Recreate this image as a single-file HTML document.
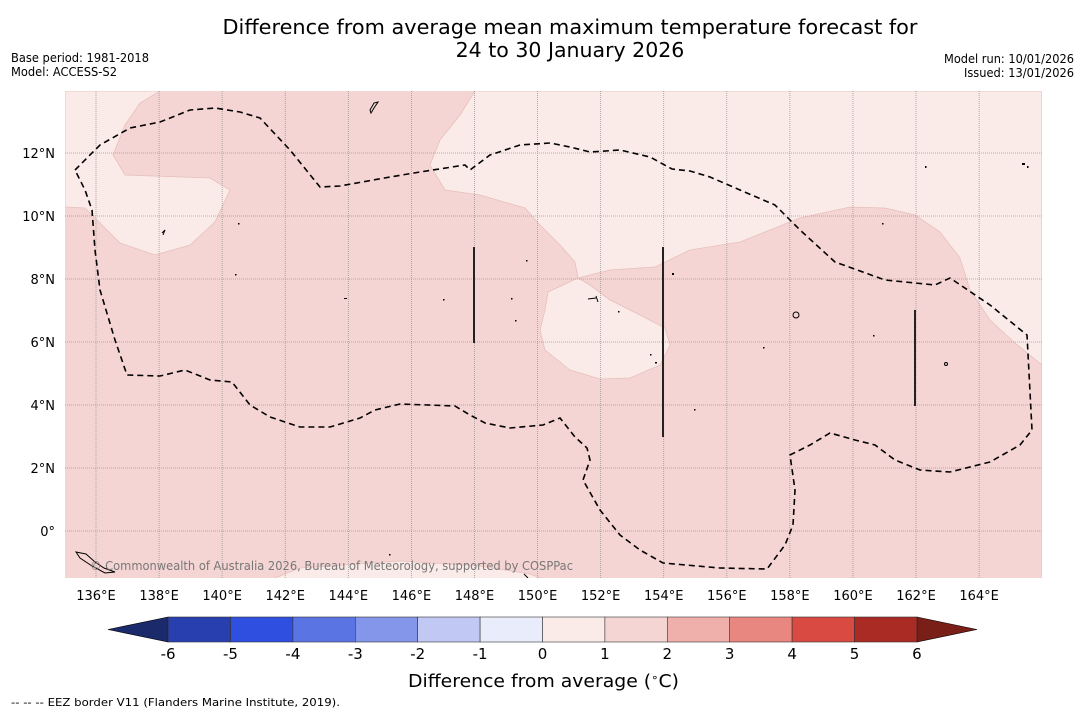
<!DOCTYPE html>
<html><head><meta charset="utf-8"><style>
body{margin:0;background:#fff;width:1085px;height:713px;overflow:hidden}
svg text{font-family:"DejaVu Sans","Liberation Sans",sans-serif}
</style></head><body>
<svg id="c" width="1085" height="713" xmlns="http://www.w3.org/2000/svg">
<text x="570" y="34" font-size="20.5" text-anchor="middle" textLength="695" lengthAdjust="spacingAndGlyphs">Difference from average mean maximum temperature forecast for</text>
<text x="570" y="57" font-size="20.5" text-anchor="middle">24 to 30 January 2026</text>
<text x="11" y="62" font-size="12" textLength="138" lengthAdjust="spacingAndGlyphs">Base period: 1981-2018</text>
<text x="11" y="76" font-size="12" textLength="106" lengthAdjust="spacingAndGlyphs">Model: ACCESS-S2</text>
<text x="944" y="63" font-size="12" textLength="130" lengthAdjust="spacingAndGlyphs">Model run: 10/01/2026</text>
<text x="964" y="77" font-size="12" textLength="110" lengthAdjust="spacingAndGlyphs">Issued: 13/01/2026</text>
<defs><clipPath id="mc"><rect x="65" y="91" width="977" height="487"/></clipPath></defs>
<g clip-path="url(#mc)">
<rect x="65" y="91" width="977" height="487" fill="#f5d5d3"/>
<g fill="#fbebe8" stroke="#e6c0bd" stroke-width="0.8">
<path d="M65,91 L160,91 L140,103 L125,125 L113,155 L125,175 L210,178 L230,190 L215,222 L190,245 L155,255 L120,243 L95,218 L85,208 L65,207 Z"/>
<path d="M475,91 L460,115 L440,140 L430,165 L445,190 L480,195 L525,208 L540,225 L560,245 L575,262 L578,278 L610,270 L655,267 L690,250 L740,242 L770,230 L800,218 L850,207 L885,208 L915,215 L940,232 L960,258 L970,290 L990,320 L1015,343 L1042,365 L1042,91 Z"/>
<path d="M578,278 L548,292 L545,310 L540,330 L545,350 L570,370 L600,379 L630,378 L660,365 L670,345 L665,328 L640,315 L610,300 L590,285 Z"/>
<path d="M270,580 L300,568 L400,561 L480,566 L530,574 L545,580 Z"/>
</g>
<g id="grid" stroke="#999" stroke-width="0.8" stroke-dasharray="1,1"></g>
<path fill="none" stroke="#000" stroke-width="1.6" stroke-dasharray="6,4" d="M75,170 L100,145 L130,128 L160,122 L190,110 L215,108 L240,112 L260,118 L290,150 L320,187 L340,186 L390,177 L420,172 L465,165 L470,170 L490,155 L520,145 L550,143 L570,147 L590,152 L620,150 L650,157 L672,169 L690,171 L710,177 L740,190 L775,205 L800,230 L835,262 L885,280 L935,285 L950,278 L990,305 L1027,335 L1032,430 L1020,445 L990,462 L950,472 L920,470 L895,460 L875,445 L855,440 L830,433 L810,445 L790,455 L795,490 L793,525 L785,545 L767,569 L720,568 L663,563 L640,550 L620,535 L600,510 L583,480 L590,460 L587,448 L575,437 L560,418 L543,425 L510,428 L485,423 L470,415 L455,406 L400,404 L375,410 L360,418 L330,427 L300,427 L270,417 L250,405 L232,382 L210,380 L185,370 L160,376 L127,375 L115,340 L100,290 L95,250 L92,210 L85,190 L75,170"/>
<g stroke="#222" stroke-width="2">
<line x1="474" y1="247" x2="474" y2="343"/><line x1="663" y1="247" x2="663" y2="437"/><line x1="915" y1="310" x2="915" y2="406"/>
</g>
<g fill="none" stroke="#000" stroke-width="1">
<path d="M370,110 L374,103 L378,102 L374,108 L371,113 Z"/>
<circle cx="796" cy="315" r="3"/>
<circle cx="946" cy="364" r="1.5"/>
<path d="M76,552 L86,554 L95,562 L104,568 L115,572 L105,573 L92,566 L80,558 Z"/>
<path d="M162,233 L165,230 L163,235"/>
<path d="M588,299 L596,298 M596,296 L598,302"/>
<path d="M524,574 L528,578"/>
</g>
<g fill="#000">
<rect x="238" y="223" width="1.5" height="1.5"/><rect x="235" y="274" width="1.5" height="1.5"/><rect x="344" y="298" width="3" height="1"/>
<rect x="443" y="299" width="1.5" height="1.5"/><rect x="511" y="298" width="1.5" height="1.5"/><rect x="515" y="320" width="1.5" height="1.5"/>
<rect x="526" y="260" width="1.5" height="1.5"/><rect x="618" y="311" width="1.5" height="1.5"/><rect x="650" y="354" width="1.5" height="1.5"/>
<rect x="655" y="362" width="2" height="1.5"/><rect x="694" y="409" width="1.5" height="1.5"/><rect x="763" y="347" width="1.5" height="1.5"/>
<rect x="873" y="335" width="1.5" height="1.5"/><rect x="882" y="223" width="1.5" height="1.5"/><rect x="1022" y="163" width="3" height="2"/>
<rect x="1027" y="166" width="1.5" height="2"/><rect x="925" y="166" width="1.5" height="2"/><rect x="389" y="554" width="1.5" height="1.5"/>
<rect x="672" y="273" width="2" height="2"/>
</g>
<text x="90" y="570" font-size="12" fill="#777" textLength="483" lengthAdjust="spacingAndGlyphs">© Commonwealth of Australia 2026, Bureau of Meteorology, supported by COSPPac</text>
</g>
<g id="xlabels" font-size="13" text-anchor="middle"></g>
<g id="ylabels" font-size="13" text-anchor="end"></g>
<g id="cbar"></g>
<text x="408" y="687" font-size="17.5" textLength="271" lengthAdjust="spacingAndGlyphs">Difference from average (<tspan font-size="11" dy="-6">∘</tspan><tspan dy="6">C)</tspan></text>
<text x="11" y="706" font-size="11" textLength="329" lengthAdjust="spacingAndGlyphs">--  --  -- EEZ border V11 (Flanders Marine Institute, 2019).</text>
</svg>
<script>
const lonTicks=[136,138,140,142,144,146,148,150,152,154,156,158,160,162,164];
const latTicks=[0,2,4,6,8,10,12];
const cbLevels=[-6,-5,-4,-3,-2,-1,0,1,2,3,4,5,6];
const cbColors=["#283faf","#2f4fe0","#5b74e3","#8496e9","#c0c8f3","#e9ecfa","#fbebe8","#f5d5d3","#efb0ab","#e8877f","#d84a42","#aa2a24"];
const NS="http://www.w3.org/2000/svg";
const X=lon=>96+(lon-136)*31.54, Y=lat=>531-lat*31.5, CX=v=>542.5+v*62.4;
function mk(t,a,p){const e=document.createElementNS(NS,t);for(const k in a)e.setAttribute(k,a[k]);p.appendChild(e);return e;}
const grid=document.getElementById('grid');
[...lonTicks,166].forEach(l=>{const e=mk('line',{x1:X(l),x2:X(l),y1:91,y2:578},grid);

});
latTicks.forEach(l=>{const e=mk('line',{x1:65,x2:1042,y1:Y(l),y2:Y(l)},grid);

});
const xl=document.getElementById('xlabels');
lonTicks.forEach(l=>{const e=mk('text',{x:X(l),y:600},xl);e.textContent=l+'°E';

});
const yl=document.getElementById('ylabels');
latTicks.forEach(l=>{const e=mk('text',{x:55,y:Y(l)+5},yl);e.textContent=l===0?'0°':l+'°N';

});
const cb=document.getElementById('cbar');
const y0=617,y1=642,lo=cbLevels[0],hi=cbLevels[cbLevels.length-1];
let t=mk('path',{d:`M${CX(lo)},${y0} L108,629.5 L${CX(lo)},${y1} Z`,fill:'#1b2a6b',stroke:'#000','stroke-width':0.6},cb);


t=mk('path',{d:`M${CX(hi)},${y0} L977,629.5 L${CX(hi)},${y1} Z`,fill:'#7a1e18',stroke:'#000','stroke-width':0.6},cb);


cbColors.forEach((c,i)=>{const r=mk('rect',{x:CX(cbLevels[i]),y:y0,width:CX(cbLevels[i+1])-CX(cbLevels[i]),height:y1-y0,fill:c,stroke:'#333','stroke-width':0.6},cb);

});
cbLevels.forEach(v=>{const e=mk('text',{x:CX(v),y:659,'font-size':15,'text-anchor':'middle'},cb);e.textContent=v;

});
</script>
</body></html>
